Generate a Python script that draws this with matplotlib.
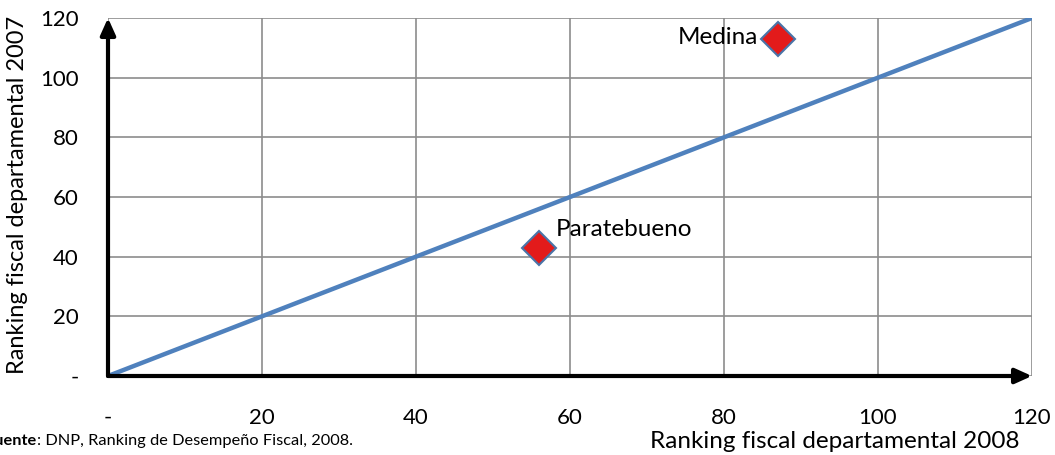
import matplotlib.pyplot as plt

plt.rcParams['font.family'] = ['Lato', 'DejaVu Sans']

# Datos
municipios = ['Paratebueno', 'Medina']
rank_2008 = [56, 87]
rank_2007 = [43, 113]
diag = [0, 120]
ticks = [0, 20, 40, 60, 80, 100, 120]
tick_labels = ['-', '20', '40', '60', '80', '100', '120']

W, H = 1055, 455
fig = plt.figure(figsize=(W / 100, H / 100), dpi=100)
ax = fig.add_axes([108 / W, 1 - 376 / H, (1032 - 108) / W, (376 - 18) / H])

ax.set_xlim(0, 120)
ax.set_ylim(0, 120)
ax.set_xticks(ticks)
ax.set_yticks(ticks)
ax.set_xticklabels(tick_labels, fontsize=16)
ax.set_yticklabels(tick_labels, fontsize=16)
ax.tick_params(length=0)
ax.tick_params(axis='x', pad=23)
ax.tick_params(axis='y', pad=21)
for s in ax.spines.values():
    s.set_visible(False)
ax.grid(True, color='#8c8c8c', linewidth=1.2)
ax.set_axisbelow(True)

# linea de 45 grados
ax.plot(diag, diag, color='#4f81bd', linewidth=3.2, solid_capstyle='round', zorder=3)

# ejes con flecha
arrow = dict(arrowstyle='-|>,head_length=1.0,head_width=0.45', color='black', lw=3,
             shrinkA=0, shrinkB=0)
ax.annotate('', xy=(120, 0), xytext=(0, 0), arrowprops=arrow, annotation_clip=False, zorder=4)
ax.annotate('', xy=(0, 120), xytext=(0, 0), arrowprops=arrow, annotation_clip=False, zorder=4)

# puntos
ax.plot(rank_2008, rank_2007, linestyle='none', marker='D', markersize=17,
        markerfacecolor='#e31b1b', markeredgecolor='#4a74a8', markeredgewidth=1.5,
        zorder=5, clip_on=False)
ax.annotate(municipios[0], (rank_2008[0], rank_2007[0]), xytext=(12, 13),
            textcoords='offset points', fontsize=17.5, ha='left', va='center', zorder=6)
ax.annotate(municipios[1], (rank_2008[1], rank_2007[1]), xytext=(-14, 1),
            textcoords='offset points', fontsize=17.5, ha='right', va='center', zorder=6)

fig.text(835 / W, 1 - 441 / H, 'Ranking fiscal departamental 2008', fontsize=17.5,
         ha='center', va='center')
fig.text(18 / W, 1 - 195 / H, 'Ranking fiscal departamental 2007', fontsize=17,
         ha='center', va='center', rotation=90)

fig.text(37 / W, 1 - 441 / H, 'Fuente', fontsize=11.8, fontweight='bold',
         ha='right', va='center')
fig.text(37 / W, 1 - 441 / H, ': DNP, Ranking de Desempeño Fiscal, 2008.', fontsize=11.8,
         ha='left', va='center')

fig.savefig('out.png', dpi=100)
